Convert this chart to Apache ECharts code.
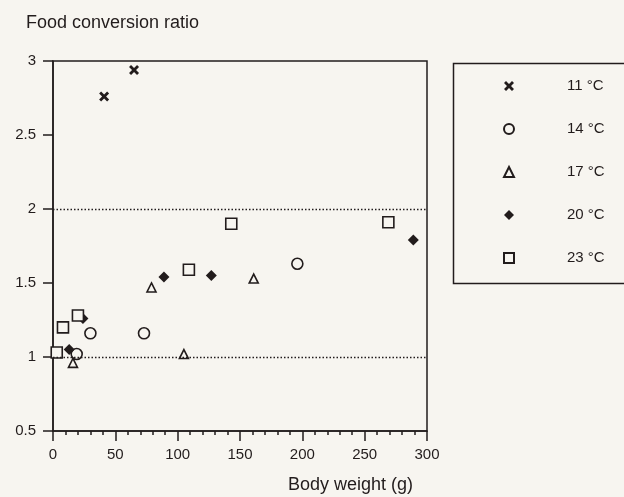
<!DOCTYPE html>
<html>
<head>
<meta charset="utf-8">
<script src="https://cdn.jsdelivr.net/npm/echarts@6/dist/echarts.min.js"></script>
<style>
  html, body { margin: 0; padding: 0; background: #f7f5f0; }
  #chart { width: 624px; height: 497px; }
</style>
</head>
<body>
<div id="chart"></div>
<script>
// temperature groups
const groups = ['11 °C', '14 °C', '17 °C', '20 °C', '23 °C'];
// [body weight (g), food conversion ratio]
const t11 = [[41, 2.76], [65, 2.94]];
const t14 = [[19, 1.02], [30, 1.16], [73, 1.16], [196, 1.63]];
const t17 = [[16, 0.96], [79, 1.47], [105, 1.02], [161, 1.53]];
const t20 = [[13, 1.05], [24, 1.26], [89, 1.54], [127, 1.55], [289, 1.79]];
const t23 = [[3, 1.03], [8, 1.2], [20, 1.28], [109, 1.59], [143, 1.9], [269, 1.91]];
const refLines = [1, 2];

const ink = '#221c1c';
const font = 'Liberation Sans, Arial, sans-serif';
const cross = 'path://M0,2L2,0L5,3L8,0L10,2L7,5L10,8L8,10L5,7L2,10L0,8L3,5Z';

let myChart = echarts.init(document.getElementById('chart'));

function pts(name, data, symbol, size, hollow) {
    return {
        name: name,
        type: 'scatter',
        data: data,
        symbol: symbol,
        symbolSize: size,
        itemStyle: hollow
            ? { color: '#f7f5f0', borderColor: ink, borderWidth: 1.6, opacity: 1 }
            : { color: ink, opacity: 1 }
    };
}

let series = [
    pts(groups[0], t11, cross, 10, false),
    pts(groups[1], t14, 'circle', 11, true),
    pts(groups[2], t17, 'triangle', 9, true),
    pts(groups[3], t20, 'diamond', 11, false),
    pts(groups[4], t23, 'rect', 11, true)
];
// dotted reference lines
series[0].markLine = {
    silent: true,
    symbol: 'none',
    label: { show: false },
    lineStyle: { color: ink, type: [1.5, 2], width: 1.3 },
    data: refLines.map(v => ({ yAxis: v }))
};

myChart.setOption({
    backgroundColor: '#f7f5f0',
    animation: false,
    textStyle: { fontFamily: font, color: ink },
    grid: { left: 53, right: 197, top: 61, bottom: 66, show: true, borderColor: ink, borderWidth: 1.5 },
    xAxis: {
        type: 'value',
        min: 0, max: 300, interval: 50,
        splitLine: { show: false },
        axisLine: { lineStyle: { color: ink, width: 1.5 } },
        axisTick: { length: 10, lineStyle: { color: ink, width: 1.5 } },
        minorTick: { show: true, splitNumber: 5, length: 4, lineStyle: { color: ink, width: 1.5 } },
        axisLabel: { color: ink, fontSize: 15, margin: 16 }
    },
    yAxis: {
        type: 'value',
        min: 0.5, max: 3, interval: 0.5,
        splitLine: { show: false },
        axisLine: { show: true, lineStyle: { color: ink, width: 1.5 } },
        axisTick: { show: true, length: 10, lineStyle: { color: ink, width: 1.5 } },
        axisLabel: { color: ink, fontSize: 15, margin: 17 }
    },
    legend: {
        orient: 'vertical',
        left: 498, top: 71,
        itemWidth: 10, itemHeight: 10,
        itemGap: 23,
        selectedMode: false,
        textStyle: { color: ink, fontSize: 15, lineHeight: 20, padding: [0, 0, 0, 48] },
        data: groups
    },
    graphic: [
        { type: 'rect', left: 451, top: 61, shape: { width: 200, height: 220 },
          style: { fill: 'none', stroke: ink, lineWidth: 1.5 } },
        { type: 'text', left: 26, top: 14,
          style: { text: 'Food conversion ratio', fontSize: 18, fill: ink, fontFamily: font } },
        { type: 'text', left: 288, top: 476,
          style: { text: 'Body weight (g)', fontSize: 18, fill: ink, fontFamily: font } }
    ],
    series: series
});
window.onresize = function () { myChart.resize(); };
</script>
</body>
</html>
